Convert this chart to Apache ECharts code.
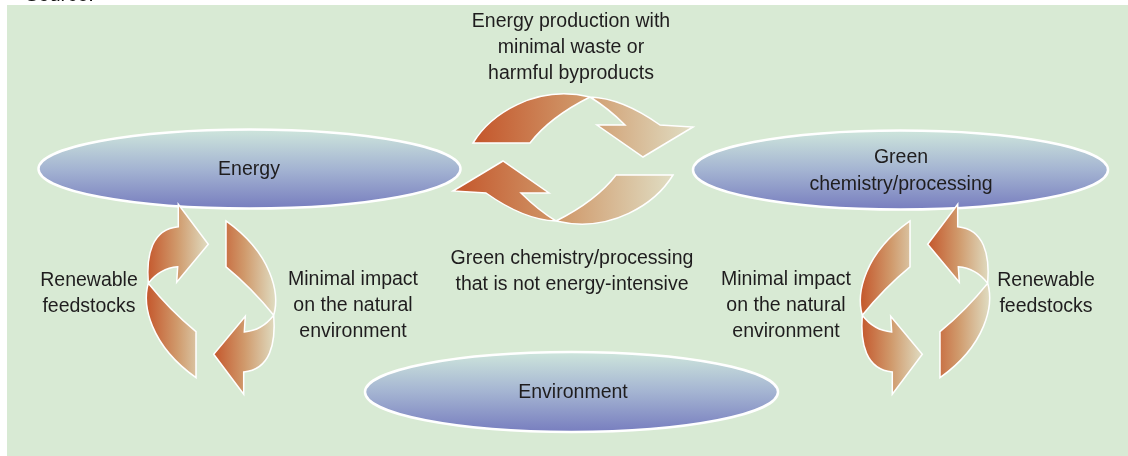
<!DOCTYPE html>
<html><head><meta charset="utf-8">
<script src="https://cdn.jsdelivr.net/npm/echarts@6/dist/echarts.min.js"></script>
<style>html,body{margin:0;padding:0;background:#fff}#c{width:1128px;height:456px}</style>
</head><body><div id="c"></div>
<script>
// ---- content ----
const sourceNote = ['Source:'];
const nodeLabels = ['Energy', 'Green\nchemistry/processing', 'Environment'];
const flowLabels = [
  'Energy production with\nminimal waste or\nharmful byproducts',
  'Green chemistry/processing\nthat is not energy-intensive',
  'Renewable\nfeedstocks',
  'Minimal impact\non the natural\nenvironment',
  'Minimal impact\non the natural\nenvironment',
  'Renewable\nfeedstocks'
];
const cycleNames = ['Energy - Green chemistry', 'Energy - Environment', 'Green chemistry - Environment'];

// ---- layout (positions / sizes, kept apart from content) ----
const nodeLayout = [[249.5, 169, 211, 39.5], [900.5, 170, 207.5, 39.5], [571.5, 392, 206.5, 40]];
const nodeLabelPos = [[249, 169.5], [901, 171], [573, 393]];
const flowLabelPos = [[571, 47.5], [572, 271.5], [89, 293.5], [353, 306], [786, 306], [1046, 293.5]];
const cycleCenters = [[573, 159], [211, 299.3], [925, 299.3]];
// each cycle: which template, and the two arrows' 2x2 transforms
const cycleTransforms = [
  ['h', [[1, 0], [0, 1]], [[-1, 0], [0, -1]]],
  ['v', [[1, 0], [0, 1]], [[-1, 0], [0, -1]]],
  ['v', [[-1, 0], [0, 1]], [[1, 0], [0, -1]]]
];
const arrowTemplates = {
  h: [
    ['M', -100, -16],
    ['C', -83, -44, -38, -75, 17, -62],
    ['Q', 49, -61, 87, -34],
    ['L', 120, -32],
    ['L', 70, -2],
    ['L', 24, -34],
    ['L', 52, -34],
    ['Q', 35, -51, 17, -62],
    ['Q', -23, -42, -43, -16],
    ['Z']
  ],
  v: [
    ['M', -62.7, -16],
    ['C', -65, -44.3, -59, -70.3, -32.7, -72.6],
    ['L', -32.7, -95],
    ['L', -2.7, -55],
    ['L', -34.3, -17],
    ['L', -33.3, -32.6],
    ['Q', -51, -31.3, -62.7, -16],
    ['C', -69, 5.7, -61, 45.7, -15, 78.4],
    ['L', -15, 32.4],
    ['Q', -41, 11, -62.7, -16],
    ['Z']
  ]
};

const FONT = '19.5px "Liberation Sans", Arial, sans-serif';
const TEXT = '#1f1d1e';

const arrows = [];
cycleNames.forEach((n, ci) => {
  const t = cycleTransforms[ci];
  [t[1], t[2]].forEach(m => arrows.push({ c: cycleCenters[ci], m, tpl: arrowTemplates[t[0]] }));
});

function arrowPath(api, a) {
  const [cx, cy] = a.c, m = a.m;
  const tp = (x, y) => {
    const p = api.coord([cx + m[0][0] * x + m[0][1] * y, cy + m[1][0] * x + m[1][1] * y]);
    return p[0].toFixed(2) + ' ' + p[1].toFixed(2);
  };
  return a.tpl.map(s => {
    if (s[0] === 'Z') return 'Z';
    const pts = [];
    for (let i = 1; i < s.length; i += 2) pts.push(tp(s[i], s[i + 1]));
    return s[0] + ' ' + pts.join(' ');
  }).join(' ');
}

const chart = echarts.init(document.getElementById('c'), null, { renderer: 'canvas' });
chart.setOption({
  animation: false,
  backgroundColor: '#ffffff',
  grid: { left: 0, right: 0, top: 0, bottom: 0 },
  xAxis: { type: 'value', min: 0, max: 1128, show: false },
  yAxis: { type: 'value', min: 0, max: 456, inverse: true, show: false },
  series: [
    { // panel + source note
      type: 'custom', z: 1, data: [[0, 0]],
      renderItem: (params, api) => {
        const p0 = api.coord([7, 5]), p1 = api.coord([1128, 456]);
        const s = api.coord([25, -5]);
        return { type: 'group', children: [
          { type: 'rect', shape: { x: p0[0], y: p0[1], width: p1[0] - p0[0], height: p1[1] - p0[1] }, style: { fill: '#d8ead4' } },
          { type: 'text', style: { text: sourceNote[0], x: s[0], y: s[1], font: '20px "Liberation Sans", Arial, sans-serif', fill: '#111', align: 'left', verticalAlign: 'middle' } }
        ] };
      }
    },
    { // ellipses
      type: 'custom', z: 2, data: nodeLabels.map((_, i) => [i, 0]),
      renderItem: (params, api) => {
        const [cx, cy, rx, ry] = nodeLayout[params.dataIndex];
        const l = api.coord([cx - rx, cy]), r = api.coord([cx + rx, cy]);
        const sz = api.size([rx, ry]);
        const d = `M ${l[0]} ${l[1]} A ${sz[0]} ${sz[1]} 0 1 0 ${r[0]} ${r[1]} A ${sz[0]} ${sz[1]} 0 1 0 ${l[0]} ${l[1]} Z`;
        const c = api.coord(nodeLabelPos[params.dataIndex]);
        return { type: 'group', children: [
          { type: 'path', shape: { pathData: d }, style: {
            fill: { type: 'linear', x: 0, y: 0, x2: 0, y2: 1, colorStops: [
              { offset: 0, color: '#cfe7dc' }, { offset: 0.5, color: '#a4b4d2' }, { offset: 1, color: '#767cbe' }] },
            stroke: '#ffffff', lineWidth: 2.5 } },
          { type: 'text', style: { text: nodeLabels[params.dataIndex], x: c[0], y: c[1], font: FONT, fill: TEXT, align: 'center', verticalAlign: 'middle', lineHeight: 27 } }
        ] };
      }
    },
    { // cycle arrows
      type: 'custom', z: 3, data: arrows.map((_, i) => [i, 0]),
      renderItem: (params, api) => ({
        type: 'path', shape: { pathData: arrowPath(api, arrows[params.dataIndex]) },
        style: {
          fill: { type: 'linear', x: 0, y: 0, x2: 1, y2: 0, colorStops: [
            { offset: 0, color: '#c4552a' }, { offset: 0.5, color: '#d09a6c' }, { offset: 1, color: '#e0dec4' }] },
          stroke: '#ffffff', lineWidth: 1.5, lineJoin: 'miter'
        }
      })
    },
    { // flow labels
      type: 'custom', z: 4, data: flowLabels.map((_, i) => [i, 0]),
      renderItem: (params, api) => {
        const p = api.coord(flowLabelPos[params.dataIndex]);
        return { type: 'text', style: { text: flowLabels[params.dataIndex], x: p[0], y: p[1], font: FONT, fill: TEXT, align: 'center', verticalAlign: 'middle', lineHeight: 26 } };
      }
    }
  ]
});
</script>
</body></html>
